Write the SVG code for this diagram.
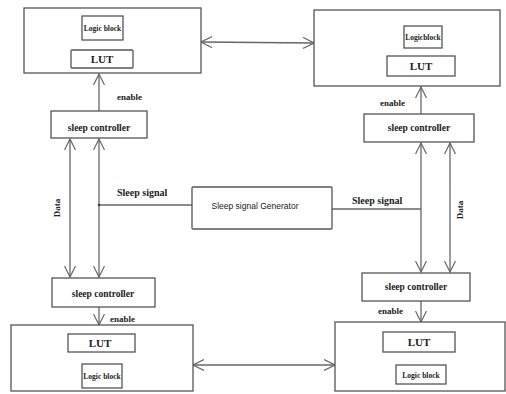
<svg xmlns="http://www.w3.org/2000/svg" width="506" height="394" viewBox="0 0 506 394">
<style>
.b{fill:#fff;stroke:#555;stroke-width:1.3}
.l{fill:none;stroke:#666;stroke-width:1.3}
.t{font-family:"Liberation Serif",serif;font-weight:bold;fill:#222}
.s{font-family:"Liberation Sans",sans-serif;fill:#222}
</style>
<defs>
<marker id="a" viewBox="0 0 12 12" refX="11" refY="6" markerWidth="12" markerHeight="12" markerUnits="userSpaceOnUse" orient="auto-start-reverse">
<path d="M0,0.5 L11,6 L0,11.5" fill="none" stroke="#666" stroke-width="1.2"/>
</marker>
</defs>
<rect width="506" height="394" fill="#fff"/>
<g id="connectors">
<line class="l" x1="201" y1="42" x2="314" y2="43" marker-start="url(#a)" marker-end="url(#a)"/>
<line class="l" x1="193" y1="365" x2="335" y2="365" marker-start="url(#a)" marker-end="url(#a)"/>
<line class="l" x1="99" y1="111" x2="99" y2="74" marker-end="url(#a)"/>
<line class="l" x1="421" y1="114" x2="421" y2="87" marker-end="url(#a)"/>
<line class="l" x1="99" y1="307" x2="99" y2="325" marker-end="url(#a)"/>
<line class="l" x1="421" y1="301" x2="421" y2="322" marker-end="url(#a)"/>
<line class="l" x1="70" y1="139" x2="70" y2="277" marker-start="url(#a)" marker-end="url(#a)"/>
<line class="l" x1="99" y1="139" x2="99" y2="277" marker-start="url(#a)" marker-end="url(#a)"/>
<line class="l" x1="421" y1="143" x2="421" y2="272" marker-start="url(#a)" marker-end="url(#a)"/>
<line class="l" x1="450" y1="143" x2="450" y2="272" marker-start="url(#a)" marker-end="url(#a)"/>
<line class="l" x1="99" y1="205" x2="192" y2="205"/>
<line class="l" x1="332" y1="209" x2="421" y2="209"/>
<circle cx="99" cy="205" r="1.3" fill="#444"/>
<line class="l" x1="99" y1="40" x2="99" y2="50"/>
<line class="l" x1="421" y1="48" x2="421" y2="56"/>
<line class="l" x1="99" y1="352" x2="99" y2="364"/>
<line class="l" x1="421" y1="352" x2="421" y2="365"/>
</g>
<g id="tl">
<rect class="b" x="24" y="8" width="177" height="65"/>
<rect class="b" x="82" y="16" width="41" height="24"/>
<text class="t" x="102.5" y="31" font-size="7.5" text-anchor="middle">Logic block</text>
<rect class="b" x="71" y="50" width="62" height="18" rx="1"/>
<text class="t" x="102" y="63" font-size="11" text-anchor="middle">LUT</text>
</g>
<g id="tr">
<rect class="b" x="314" y="10" width="186" height="76"/>
<rect class="b" x="404" y="26" width="38" height="22"/>
<text class="t" x="423" y="40" font-size="7.5" text-anchor="middle">Logicblock</text>
<rect class="b" x="387" y="56" width="68" height="20"/>
<text class="t" x="421" y="70" font-size="11" text-anchor="middle">LUT</text>
</g>
<g id="bl">
<rect class="b" x="11" y="325" width="182" height="66"/>
<rect class="b" x="68" y="334" width="67" height="18"/>
<text class="t" x="100" y="347" font-size="11" text-anchor="middle">LUT</text>
<rect class="b" x="82" y="364" width="40" height="24"/>
<text class="t" x="102" y="379" font-size="7.5" text-anchor="middle">Logic block</text>
</g>
<g id="br">
<rect class="b" x="335" y="322" width="170" height="69"/>
<rect class="b" x="383" y="332" width="72" height="20"/>
<text class="t" x="419" y="346" font-size="11" text-anchor="middle">LUT</text>
<rect class="b" x="396" y="365" width="50" height="19"/>
<text class="t" x="421" y="378" font-size="7.5" text-anchor="middle">Logic block</text>
</g>
<g id="sc-tl">
<rect class="b" x="51" y="111" width="96" height="27"/>
<text class="t" x="99" y="131" font-size="9.5" text-anchor="middle">sleep controller</text>
</g>
<g id="sc-tr">
<rect class="b" x="364" y="114" width="110" height="28"/>
<text class="t" x="419" y="131" font-size="9.5" text-anchor="middle">sleep controller</text>
</g>
<g id="sc-bl">
<rect class="b" x="52" y="278" width="103" height="29"/>
<text class="t" x="103" y="297" font-size="9.5" text-anchor="middle">sleep controller</text>
</g>
<g id="sc-br">
<rect class="b" x="362" y="273" width="108" height="28"/>
<text class="t" x="416" y="290" font-size="9.5" text-anchor="middle">sleep controller</text>
</g>
<g id="gen">
<rect class="b" x="192" y="187" width="140" height="42" rx="1"/>
<text class="s" x="255" y="209" font-size="8.5" text-anchor="middle">Sleep signal Generator</text>
</g>
<g id="labels">
<text class="t" x="117" y="100" font-size="9">enable</text>
<text class="t" x="380" y="106" font-size="9">enable</text>
<text class="t" x="110" y="322" font-size="9">enable</text>
<text class="t" x="378" y="314" font-size="9">enable</text>
<text class="t" x="117" y="196" font-size="10">Sleep signal</text>
<text class="t" x="352" y="204" font-size="10">Sleep signal</text>
<text class="t" transform="translate(60,208) rotate(-90)" font-size="9" text-anchor="middle">Data</text>
<text class="t" transform="translate(463,210) rotate(-90)" font-size="9" text-anchor="middle">Data</text>
</g>
</svg>
